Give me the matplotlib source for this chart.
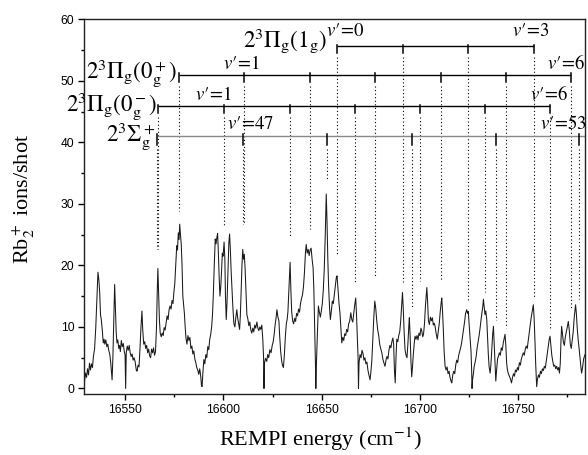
import matplotlib
matplotlib.use("Agg")
import matplotlib.pyplot as plt
import numpy as np

# ---------------- data: REMPI spectrum (energy cm-1, Rb2+ ions/shot) ----------------
spectrum = [
    (16529.2, 1.0), (16529.8, 2.5), (16530.3, 1.8), (16530.8, 3.2), (16531.3, 2.2), (16531.8, 4.1),
    (16532.3, 3.0), (16532.8, 4.0), (16533.3, 3.4), (16533.8, 5.2), (16534.4, 6.5), (16535.0, 10.0),
    (16535.6, 15.0), (16536.1, 18.9), (16536.6, 17.5), (16537.0, 15.5), (16537.4, 12.0), (16537.8, 11.2),
    (16538.3, 9.5), (16538.8, 7.4), (16539.2, 8.0), (16539.6, 7.2), (16540.1, 7.9), (16540.6, 6.8),
    (16541.1, 7.2), (16541.6, 6.2), (16542.1, 5.6), (16542.6, 4.2), (16543.0, 2.5), (16543.3, 1.4),
    (16543.7, 5.0), (16544.2, 12.0), (16544.6, 16.9), (16545.0, 13.0), (16545.4, 9.0), (16545.8, 7.4),
    (16546.2, 7.9), (16546.7, 6.5), (16547.1, 7.0), (16547.5, 6.0), (16548.0, 7.8), (16548.5, 6.8),
    (16549.0, 7.3), (16549.5, 6.0), (16549.9, 5.5), (16550.2, 0.0), (16550.5, 5.8), (16551.0, 6.9),
    (16551.5, 6.2), (16552.0, 7.0), (16552.5, 5.8), (16553.0, 5.2), (16553.5, 5.6), (16554.0, 4.6),
    (16554.5, 5.0), (16555.0, 4.4), (16555.6, 3.0), (16556.0, 2.8), (16556.5, 3.8), (16557.0, 3.5),
    (16557.5, 6.5), (16558.0, 10.0), (16558.5, 12.6), (16558.9, 9.5), (16559.4, 7.2), (16559.9, 7.6),
    (16560.4, 6.5), (16560.9, 7.0), (16561.4, 5.8), (16561.9, 6.4), (16562.4, 5.3), (16562.9, 5.0),
    (16563.4, 6.4), (16563.9, 5.8), (16564.4, 6.6), (16564.9, 5.4), (16565.4, 6.0), (16565.9, 10.0),
    (16566.3, 16.0), (16566.6, 19.5), (16567.0, 15.0), (16567.4, 11.0), (16567.8, 9.0), (16568.3, 8.4),
    (16568.8, 9.0), (16569.3, 8.6), (16569.8, 9.9), (16570.3, 9.5), (16570.8, 10.6), (16571.3, 11.8),
    (16571.8, 11.2), (16572.3, 12.8), (16572.8, 13.4), (16573.3, 12.9), (16573.8, 14.3), (16574.3, 13.8),
    (16574.7, 15.5), (16575.2, 17.0), (16575.7, 20.0), (16576.2, 23.2), (16576.6, 22.5), (16577.0, 25.3),
    (16577.4, 24.2), (16577.7, 26.7), (16578.1, 25.0), (16578.5, 23.4), (16578.9, 20.0), (16579.3, 15.0),
    (16579.7, 13.5), (16580.1, 12.2), (16580.5, 10.0), (16580.9, 8.2), (16581.4, 7.2), (16581.9, 8.6),
    (16582.4, 7.8), (16582.9, 8.3), (16583.4, 6.5), (16583.9, 6.9), (16584.4, 5.6), (16584.9, 6.1),
    (16585.4, 4.8), (16585.9, 4.2), (16586.4, 3.4), (16586.9, 3.0), (16587.4, 2.3), (16587.9, 3.2),
    (16588.4, 2.0), (16588.8, 0.5), (16589.1, 0.3), (16589.5, 2.5), (16590.0, 4.7), (16590.5, 4.0),
    (16591.0, 5.5), (16591.5, 5.0), (16592.0, 6.8), (16592.5, 6.3), (16593.0, 8.0), (16593.5, 8.8),
    (16594.0, 10.1), (16594.4, 12.0), (16594.8, 15.0), (16595.3, 20.0), (16595.8, 24.3), (16596.2, 23.5),
    (16596.6, 24.5), (16597.0, 25.2), (16597.4, 22.0), (16597.8, 18.0), (16598.2, 15.0), (16598.6, 16.5),
    (16599.0, 19.0), (16599.4, 22.0), (16599.8, 21.5), (16600.3, 23.8), (16600.7, 21.0), (16601.0, 15.0),
    (16601.4, 11.2), (16601.8, 14.0), (16602.3, 19.0), (16602.7, 23.5), (16603.1, 25.1), (16603.5, 22.5),
    (16603.9, 19.0), (16604.3, 16.4), (16604.8, 13.0), (16605.3, 10.5), (16605.8, 10.0), (16606.3, 11.6),
    (16606.8, 12.8), (16607.2, 11.5), (16607.7, 10.6), (16608.2, 9.6), (16608.6, 12.0), (16609.0, 16.0),
    (16609.4, 20.0), (16609.8, 22.6), (16610.2, 21.0), (16610.6, 21.8), (16611.0, 19.5), (16611.4, 16.0),
    (16611.9, 12.0), (16612.4, 11.3), (16612.9, 10.2), (16613.4, 10.8), (16613.9, 9.5), (16614.4, 9.0),
    (16614.9, 9.8), (16615.4, 9.2), (16615.9, 10.3), (16616.4, 9.8), (16617.0, 10.8), (16617.5, 9.8),
    (16618.0, 9.4), (16618.5, 10.0), (16619.0, 9.6), (16619.5, 10.3), (16620.0, 8.0), (16620.4, 5.0),
    (16620.6, 0.0), (16620.9, 4.2), (16621.4, 4.9), (16622.0, 4.4), (16622.5, 5.5), (16623.0, 5.0),
    (16623.6, 6.3), (16624.2, 5.8), (16624.8, 7.0), (16625.3, 7.6), (16625.8, 8.8), (16626.3, 10.4),
    (16626.8, 11.6), (16627.2, 12.8), (16627.7, 11.6), (16628.2, 11.0), (16628.6, 8.5), (16629.1, 6.0),
    (16629.6, 4.5), (16630.0, 3.8), (16630.5, 3.4), (16631.0, 5.5), (16631.5, 8.5), (16632.0, 10.6),
    (16632.4, 11.2), (16632.8, 12.5), (16633.3, 16.0), (16633.9, 20.5), (16634.3, 16.0), (16634.7, 12.5),
    (16635.2, 11.0), (16635.7, 10.5), (16636.2, 11.4), (16636.7, 10.9), (16637.2, 12.2), (16637.7, 11.8),
    (16638.2, 12.9), (16638.7, 12.4), (16639.2, 13.8), (16639.7, 14.6), (16640.2, 15.2), (16640.7, 16.5),
    (16641.2, 18.8), (16641.7, 22.0), (16642.1, 23.4), (16642.6, 22.0), (16643.1, 22.6), (16643.6, 21.6),
    (16644.1, 22.5), (16644.6, 22.8), (16645.1, 21.0), (16645.6, 19.6), (16646.0, 16.0), (16646.4, 10.0),
    (16646.8, 4.0), (16647.0, 0.0), (16647.3, 4.0), (16647.8, 9.0), (16648.3, 13.4), (16648.8, 12.4),
    (16649.3, 11.6), (16649.8, 12.6), (16650.3, 13.8), (16650.8, 16.0), (16651.3, 19.5), (16651.8, 25.0),
    (16652.3, 31.6), (16652.7, 27.0), (16653.1, 21.0), (16653.5, 16.6), (16654.0, 13.0), (16654.4, 11.2),
    (16654.9, 12.6), (16655.4, 14.2), (16655.9, 13.8), (16656.4, 15.2), (16656.9, 16.5), (16657.4, 18.0),
    (16657.8, 18.3), (16658.3, 16.0), (16658.8, 13.8), (16659.3, 12.2), (16659.8, 9.5), (16660.2, 7.4),
    (16660.7, 8.3), (16661.2, 7.8), (16661.7, 8.9), (16662.2, 8.6), (16662.7, 9.6), (16663.2, 9.2),
    (16663.7, 10.5), (16664.2, 10.9), (16664.8, 12.3), (16665.3, 11.2), (16665.8, 10.8), (16666.3, 12.2),
    (16666.8, 13.6), (16667.3, 14.7), (16667.7, 12.0), (16668.1, 8.5), (16668.5, 5.0), (16668.7, 0.0),
    (16669.0, 4.2), (16669.5, 5.5), (16670.0, 5.0), (16670.5, 6.2), (16671.0, 5.7), (16671.5, 4.6),
    (16672.0, 5.0), (16672.5, 4.0), (16673.0, 4.3), (16673.5, 3.0), (16674.0, 2.2), (16674.6, 1.4),
    (16675.0, 2.6), (16675.5, 4.5), (16676.0, 8.0), (16676.5, 11.5), (16677.0, 14.2), (16677.5, 13.0),
    (16678.0, 11.0), (16678.5, 9.5), (16679.0, 8.6), (16679.5, 7.2), (16680.0, 6.5), (16680.6, 5.8),
    (16681.1, 4.8), (16681.6, 4.2), (16682.2, 3.6), (16682.7, 4.6), (16683.2, 5.2), (16683.7, 4.8),
    (16684.2, 6.2), (16684.7, 7.0), (16685.2, 6.6), (16685.7, 7.6), (16686.2, 8.2), (16686.6, 7.2),
    (16687.0, 3.0), (16687.4, 0.9), (16687.8, 5.0), (16688.2, 8.0), (16688.7, 7.6), (16689.2, 8.6),
    (16689.7, 9.2), (16690.2, 11.0), (16690.7, 13.6), (16691.1, 15.6), (16691.5, 13.0), (16691.9, 9.5),
    (16692.4, 6.3), (16692.9, 5.4), (16693.4, 5.0), (16693.9, 7.5), (16694.3, 10.0), (16694.6, 11.5),
    (16695.0, 8.5), (16695.4, 4.5), (16695.8, 1.9), (16696.2, 3.5), (16696.6, 5.5), (16697.1, 7.4),
    (16697.5, 8.5), (16698.0, 8.0), (16698.5, 8.6), (16699.0, 7.9), (16699.5, 9.0), (16700.0, 8.6),
    (16700.5, 9.8), (16700.9, 9.4), (16701.4, 8.4), (16701.8, 8.8), (16702.3, 10.5), (16702.8, 13.5),
    (16703.2, 15.2), (16703.5, 16.4), (16703.9, 14.0), (16704.3, 11.0), (16704.8, 10.4), (16705.3, 11.6),
    (16705.8, 11.0), (16706.3, 11.5), (16706.8, 10.3), (16707.3, 10.6), (16707.7, 10.1), (16708.2, 9.0),
    (16708.8, 8.0), (16709.3, 9.2), (16709.8, 10.5), (16710.3, 12.4), (16710.8, 14.0), (16711.1, 14.7),
    (16711.5, 12.5), (16711.9, 9.5), (16712.3, 6.0), (16712.8, 3.6), (16713.3, 3.0), (16713.8, 3.5),
    (16714.3, 2.4), (16714.8, 2.8), (16715.3, 1.8), (16715.8, 1.2), (16716.2, 0.9), (16716.7, 2.2),
    (16717.2, 2.8), (16717.7, 2.4), (16718.2, 3.8), (16718.7, 4.6), (16719.2, 4.2), (16719.7, 5.4),
    (16720.2, 6.0), (16720.7, 6.6), (16721.2, 7.4), (16721.7, 8.5), (16722.2, 9.5), (16722.7, 10.8),
    (16723.2, 12.2), (16723.8, 12.8), (16724.2, 12.2), (16724.6, 12.5), (16725.0, 10.5), (16725.5, 8.2),
    (16726.0, 6.0), (16726.3, 3.0), (16726.5, 0.0), (16726.8, 1.5), (16727.2, 2.4), (16727.6, 3.6),
    (16728.1, 4.3), (16728.6, 5.2), (16729.1, 6.6), (16729.6, 7.6), (16730.1, 8.6), (16730.6, 9.8),
    (16731.1, 11.2), (16731.6, 12.4), (16732.0, 13.4), (16732.3, 14.5), (16732.7, 13.2), (16733.1, 12.0),
    (16733.5, 12.6), (16734.0, 11.2), (16734.4, 8.5), (16734.8, 5.5), (16735.2, 3.5), (16735.7, 2.5),
    (16736.1, 3.8), (16736.6, 6.5), (16737.0, 8.8), (16737.4, 10.1), (16737.8, 7.0), (16738.2, 3.5),
    (16738.6, 1.2), (16739.0, 3.0), (16739.5, 4.8), (16739.9, 5.2), (16740.4, 5.8), (16740.9, 5.4),
    (16741.4, 6.6), (16741.9, 6.2), (16742.4, 7.4), (16742.9, 8.2), (16743.3, 8.8), (16743.7, 7.0),
    (16744.1, 4.2), (16744.5, 3.0), (16745.0, 2.4), (16745.5, 2.0), (16746.0, 1.6), (16746.6, 0.9),
    (16747.1, 1.8), (16747.6, 2.4), (16748.1, 2.0), (16748.6, 3.0), (16749.1, 2.7), (16749.6, 3.4),
    (16750.1, 3.0), (16750.6, 4.2), (16751.1, 3.8), (16751.6, 4.8), (16752.1, 5.3), (16752.6, 5.8),
    (16753.1, 5.4), (16753.6, 6.4), (16754.1, 6.9), (16754.6, 6.5), (16755.1, 7.8), (16755.6, 9.0),
    (16756.1, 10.2), (16756.6, 11.5), (16757.2, 12.6), (16757.7, 13.6), (16758.1, 11.5), (16758.5, 8.0),
    (16758.9, 4.0), (16759.4, 0.3), (16759.8, 1.5), (16760.3, 2.2), (16760.8, 1.8), (16761.3, 2.8),
    (16761.8, 2.4), (16762.3, 3.2), (16762.8, 2.9), (16763.3, 3.6), (16763.8, 3.3), (16764.3, 4.5),
    (16764.8, 5.6), (16765.3, 6.8), (16765.8, 8.0), (16766.2, 8.5), (16766.6, 7.2), (16767.1, 5.4),
    (16767.6, 4.4), (16768.1, 3.6), (16768.6, 3.8), (16769.1, 3.2), (16769.6, 3.6), (16770.1, 3.0),
    (16770.6, 3.4), (16771.0, 2.5), (16771.4, 4.0), (16771.8, 8.0), (16772.1, 10.1), (16772.5, 9.0),
    (16773.0, 7.5), (16773.5, 7.0), (16774.0, 8.4), (16774.5, 9.2), (16775.0, 10.0), (16775.5, 10.9),
    (16776.0, 9.5), (16776.5, 7.2), (16777.0, 6.5), (16777.5, 7.8), (16778.0, 9.2), (16778.5, 11.5),
    (16779.2, 13.6), (16779.6, 12.2), (16780.0, 10.0), (16780.5, 8.0), (16781.0, 6.5), (16781.5, 4.8),
    (16782.0, 3.2), (16782.3, 2.5), (16782.8, 3.5), (16783.3, 4.8), (16784.0, 5.5),
]
energy = [p[0] for p in spectrum]
ions = [p[1] for p in spectrum]

# progressions: level energies (cm-1), and where each dotted guide ends (ions/shot)
sigma_levels = [16566.4, 16609.7, 16652.6, 16695.8, 16738.7, 16781.0]
sigma_drop = [22.7, 26.7, 33.8, 13.0, 11.2, 14.5]
pi0m_levels = [16566.9, 16600.4, 16633.6, 16667.0, 16700.1, 16733.3, 16766.2]
pi0m_drop = [22.7, 26.3, 24.8, 17.3, 17.5, 15.6, 9.6]
pi0p_levels = [16577.1, 16610.5, 16644.1, 16677.3, 16710.6, 16743.6, 16776.7]
pi0p_drop = [28.9, 26.7, 25.9, 18.3, 17.7, 9.9, 12.7]
pi1_levels = [16657.7, 16691.2, 16724.6, 16758.0]
pi1_drop = [21.5, 17.3, 14.2, 14.9]

# ---------------- figure ----------------
plt.rcParams['mathtext.fontset'] = 'stix'
serif = 'Liberation Serif'
sans = 'Liberation Sans'

fig = plt.figure(figsize=(5.88, 4.55), dpi=100)
ax = fig.add_axes([84/588, 1-394/455, 501/588, (394-19.3)/455])

ax.plot(energy, ions, color='#1a1a1a', lw=0.75)

ax.set_xlim(16529, 16784)
ax.set_ylim(-0.9, 60)

def progression(levels, drops, y, tick_len, color, line_end=None):
    x0 = levels[0]
    x1 = line_end if line_end is not None else levels[-1]
    ax.plot([x0, x1], [y, y], color=color, lw=1.0, solid_capstyle='butt', clip_on=True)
    for lx, d in zip(levels, drops):
        ax.plot([lx, lx], [y + 0.2, y - tick_len], color='black', lw=1.1, clip_on=True)
        ax.plot([lx, lx], [y - tick_len - 0.6, d], color='black', lw=0.8,
                linestyle=(0, (1, 2.2)), clip_on=True)

progression(pi1_levels, pi1_drop, 55.7, 1.2, 'black')
progression(pi0p_levels, pi0p_drop, 51.0, 1.2, 'black')
progression(pi0m_levels, pi0m_drop, 45.9, 1.2, 'black')
progression(sigma_levels, sigma_drop, 41.1, 1.6, '#888888', line_end=16784)

lab_kw = dict(fontsize=16.5, clip_on=False)
ax.text(16652.4, 56.6, r'$2^3\Pi_{\mathrm{g}}(1_{\mathrm{g}})$', ha='right', va='center', **lab_kw)
ax.text(16576.2, 51.2, r'$2^3\Pi_{\mathrm{g}}(0^+_{\mathrm{g}})$', ha='right', va='center', **lab_kw)
ax.text(16566.0, 45.9, r'$2^3\Pi_{\mathrm{g}}(0^-_{\mathrm{g}})$', ha='right', va='center', **lab_kw)
ax.text(16565.5, 41.0, r'$2^3\Sigma^+_{\mathrm{g}}$', ha='right', va='center', **lab_kw)

v_kw = dict(fontsize=13.5, ha='center', va='bottom', clip_on=False)
ax.text(16661.8, 56.6, r"$v\prime\!=\!0$", **v_kw)
ax.text(16756.4, 56.6, r"$v\prime\!=\!3$", **v_kw)
ax.text(16609.4, 51.3, r"$v\prime\!=\!1$", **v_kw)
ax.text(16774.2, 51.3, r"$v\prime\!=\!6$", **v_kw)
ax.text(16594.9, 46.3, r"$v\prime\!=\!1$", **v_kw)
ax.text(16765.7, 46.3, r"$v\prime\!=\!6$", **v_kw)
ax.text(16614.0, 41.5, r"$v\prime\!=\!47$", **v_kw)
ax.text(16773.0, 41.5, r"$v\prime\!=\!53$", **v_kw)

# axes styling
ax.set_xticks([16550, 16600, 16650, 16700, 16750])
ax.set_xticks(np.arange(16550, 16784, 25), minor=True)
ax.set_yticks([0, 10, 20, 30, 40, 50, 60])
ax.set_yticks(np.arange(5, 60, 10), minor=True)
ax.tick_params(axis='both', which='major', direction='out', length=4, width=1,
               labelsize=8.7, pad=3)
ax.tick_params(axis='both', which='minor', direction='out', length=2.5, width=1)
ax.tick_params(top=False, right=False, which='both')
for lbl in ax.get_xticklabels() + ax.get_yticklabels():
    lbl.set_fontfamily(sans)
for sp in ax.spines.values():
    sp.set_linewidth(1.0)
    sp.set_color('#222222')

ax.set_xlabel(r'REMPI energy (cm$^{-1}$)', fontsize=16, fontfamily=serif)
ax.xaxis.set_label_coords(0.472, -0.085)
ax.set_ylabel(r'Rb$_2^+$ ions/shot', fontsize=16, fontfamily=serif)
ax.yaxis.set_label_coords(-0.094, 0.52)

fig.savefig('out.png', dpi=100)
